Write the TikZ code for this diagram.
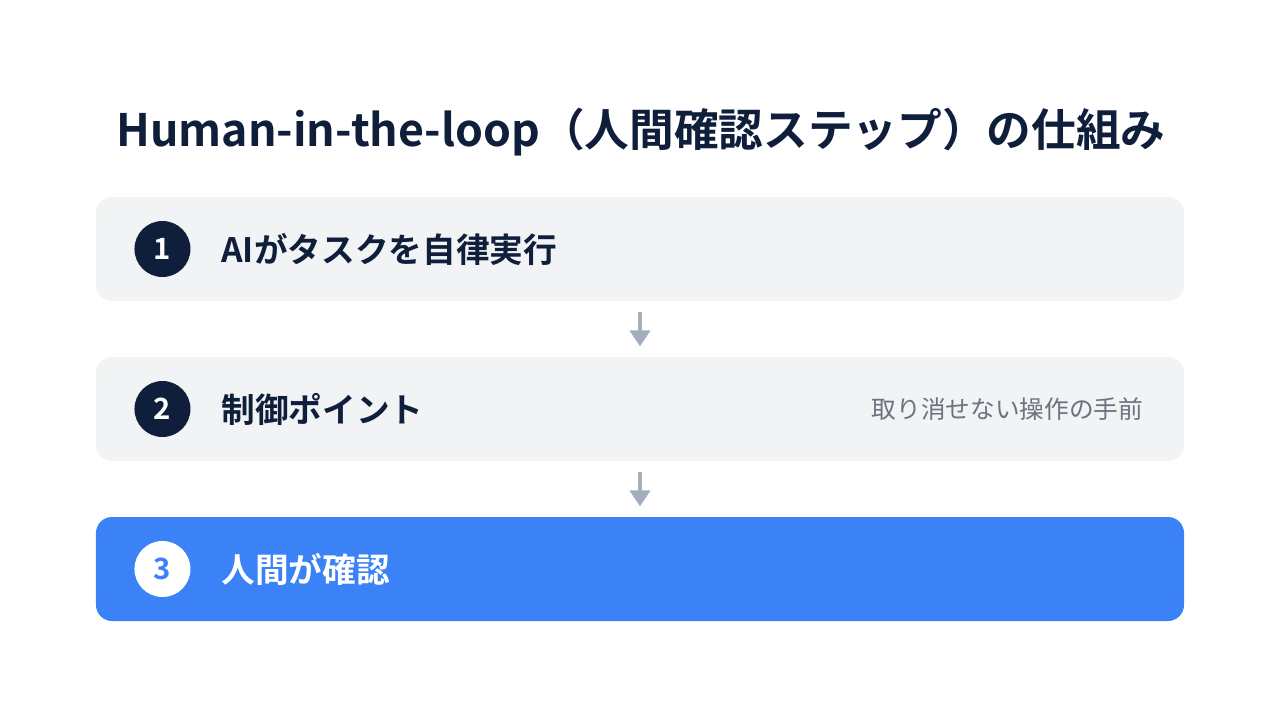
\documentclass[tikz,border=0pt]{standalone}
\usepackage{fontspec}
\newfontfamily\jp{Noto Sans CJK JP}[BoldFont={Noto Sans CJK JP Bold}]
\usetikzlibrary{positioning, arrows.meta}

\definecolor{navy}{HTML}{0F1E3A}
\definecolor{boxgray}{HTML}{F2F3F5}
\definecolor{accent}{HTML}{3B82F6}
\definecolor{arrowgray}{HTML}{A3AEBD}
\definecolor{subgray}{HTML}{6B7280}

\tikzset{
	stepbox/.style={rounded corners=12pt, minimum width=816pt, minimum height=78pt, fill=boxgray, inner sep=0pt},
	numdot/.style={circle, minimum size=42pt, inner sep=0pt, fill=navy, text=white, font=\jp\bfseries\fontsize{22}{26}\selectfont},
	steplabel/.style={anchor=west, inner sep=0pt, text=navy, font=\jp\bfseries\fontsize{25.25}{30}\selectfont},
}

\begin{document}
\begin{tikzpicture}[x=0.75pt, y=-0.75pt, thick, shorten >=7.5pt, shorten <=7.5pt]
		\useasboundingbox (0,0) rectangle (1280,720);
		\node (title) [anchor=base, inner sep=0pt, text=navy, font=\jp\bfseries\fontsize{33.5}{40}\selectfont] at (641,147) {Human-in-the-loop（人間確認ステップ）の仕組み};
		\matrix (steps) [row sep=42pt, inner sep=0pt] at (640,409) {
			\node (s1) [stepbox] {}; \\
			\node (s2) [stepbox] {}; \\
			\node (s3) [stepbox, fill=accent] {}; \\
		};
		\node (n1) [numdot] at ([xshift=50.25pt]s1.west) {1};
		\node (n2) [numdot] at ([xshift=50.25pt]s2.west) {2};
		\node (n3) [numdot, fill=white, text=accent] at ([xshift=50.25pt]s3.west) {3};
		\node (l1) [steplabel] at ([xshift=94pt]s1.west) {AIがタスクを自律実行};
		\node (l2) [steplabel] at ([xshift=94pt]s2.west) {制御ポイント};
		\node (l3) [steplabel, text=white] at ([xshift=94pt]s3.west) {人間が確認};
		\node (note) [anchor=east, inner sep=0pt, text=subgray, font=\jp\fontsize{18.5}{22}\selectfont] at ([xshift=-30.75pt]s2.east) {取り消せない操作の手前};
		\draw [-{Triangle[width=15pt,length=12pt]}, line width=3pt, draw=arrowgray] (s1) -- (s2);
		\draw [-{Triangle[width=15pt,length=12pt]}, line width=3pt, draw=arrowgray] (s2) -- (s3);
\end{tikzpicture}
\end{document}
